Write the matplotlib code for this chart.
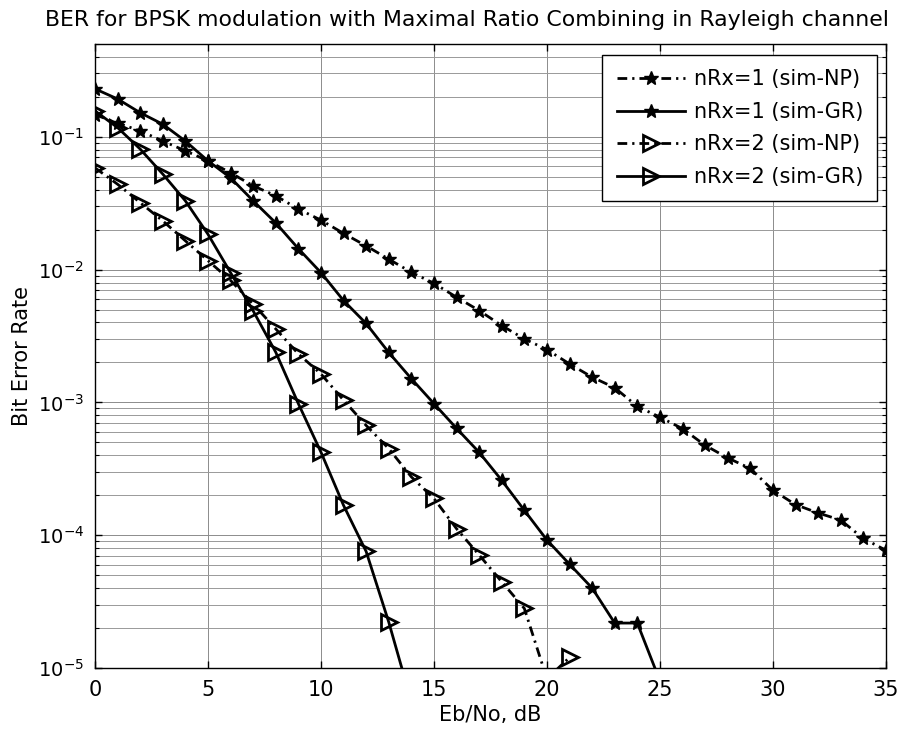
import numpy as np
import matplotlib
matplotlib.use('Agg')
import matplotlib.pyplot as plt
from matplotlib.ticker import LogLocator, NullFormatter, MultipleLocator

nan = np.nan

# Eb/No axis [dB]
eb_no_db = np.arange(0, 36)

# simulated bit error rates (nan = below the plotted range)
ber_nrx1_np = [0.147, 0.127, 0.111, 0.093, 0.0785, 0.066, 0.0536, 0.0428, 0.036, 0.0286,
               0.0236, 0.01875, 0.0151, 0.0120, 0.00955, 0.00789, 0.0062, 0.00492, 0.00379, 0.00301,
               0.0025, 0.00195, 0.00155, 0.00129, 0.000933, 0.000775, 0.000634, 0.000475, 0.000382, 0.000318,
               0.000218, 0.00017, 0.000147, 0.00013, 9.45e-5, 7.7e-5]
ber_nrx1_gr = [0.23, 0.193, 0.152, 0.1245, 0.093, 0.066, 0.0492, 0.033, 0.0225, 0.0144,
               0.0095, 0.00585, 0.00393, 0.00238, 0.00151, 0.00098, 0.000638, 0.000421, 0.000259, 0.000154,
               9.2e-5, 6.05e-5, 4.0e-5, 2.18e-5, 2.18e-5, 8e-6] + [nan] * 10
ber_nrx2_np = [0.0585, 0.044, 0.032, 0.0233, 0.0165, 0.0117, 0.0083, 0.0055, 0.00358, 0.00232,
               0.00164, 0.00104, 0.000671, 0.000449, 0.000275, 0.000189, 0.000112, 7.1e-5, 4.46e-5, 2.81e-5,
               8.3e-6, 1.2e-5] + [nan] * 14
ber_nrx2_gr = [0.157, 0.1175, 0.081, 0.0525, 0.033, 0.0185, 0.0095, 0.0049, 0.00239, 0.00098,
               0.000423, 0.000168, 7.55e-5, 2.22e-5, 5.6e-6] + [nan] * 21

series_labels = ['nRx=1 (sim-NP)', 'nRx=1 (sim-GR)', 'nRx=2 (sim-NP)', 'nRx=2 (sim-GR)']

plt.rcParams.update({
    'font.family': 'DejaVu Sans',
    'font.size': 15,
    'mathtext.default': 'regular',
})

dashdot = (0, (3.5, 1.8, 0.8, 1.8))

fig = plt.figure(figsize=(9.04, 7.40), dpi=100)
ax = fig.add_axes([0.105, 0.0973, 0.875, 0.8432])

# star markers for nRx=1, open triangles for nRx=2
ax.semilogy(eb_no_db, ber_nrx1_np, color='k', linestyle=dashdot, linewidth=2,
            marker='*', markersize=10, label=series_labels[0])
ax.semilogy(eb_no_db, ber_nrx1_gr, color='k', linestyle='-', linewidth=2,
            marker='*', markersize=10, label=series_labels[1])
ax.semilogy(eb_no_db, ber_nrx2_np, color='k', linestyle=dashdot, linewidth=2,
            marker='>', markersize=12, markerfacecolor='none', markeredgewidth=2, label=series_labels[2])
ax.semilogy(eb_no_db, ber_nrx2_gr, color='k', linestyle='-', linewidth=2,
            marker='>', markersize=12, markerfacecolor='none', markeredgewidth=2, label=series_labels[3])

ax.set_xlim(0, 35)
ax.set_ylim(1e-5, 0.5)
ax.xaxis.set_major_locator(MultipleLocator(5))
ax.yaxis.set_major_locator(LogLocator(base=10, numticks=10))
ax.yaxis.set_minor_locator(LogLocator(base=10, subs=np.arange(2, 10), numticks=20))
ax.yaxis.set_minor_formatter(NullFormatter())

ax.grid(True, which='major', color='0.55', linewidth=0.7)
ax.grid(True, which='minor', axis='y', color='0.6', linewidth=0.7)
ax.set_axisbelow(True)
ax.tick_params(which='both', direction='in', top=True, right=True)
ax.tick_params(which='major', length=5, width=1)
ax.tick_params(which='minor', length=3, width=0.8)
ax.tick_params(axis='x', which='major', pad=9)
ax.tick_params(axis='y', which='major', pad=8, labelsize=14)
for sp in ax.spines.values():
    sp.set_linewidth(1.0)

ax.set_xlabel('Eb/No, dB', labelpad=3)
ax.set_ylabel('Bit Error Rate', labelpad=4)
fig.text(0.517, 0.973, 'BER for BPSK modulation with Maximal Ratio Combining in Rayleigh channel',
         ha='center', va='center', fontsize=15.8)

leg = ax.legend(loc='upper right', bbox_to_anchor=(0.989, 0.982), borderaxespad=0,
                fancybox=False, edgecolor='k', framealpha=1, handlelength=3.3,
                handletextpad=0.4, labelspacing=0.6, borderpad=0.68)
leg.get_frame().set_linewidth(1.0)

fig.savefig('out.png', dpi=100)
